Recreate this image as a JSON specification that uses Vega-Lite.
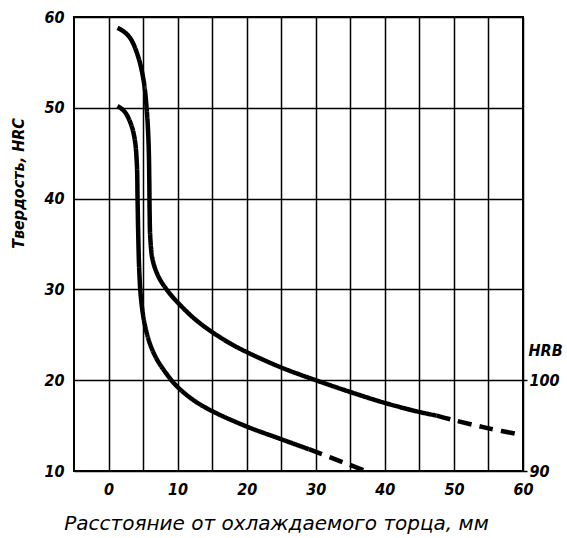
{
  "$schema": "https://vega.github.io/schema/vega-lite/v6.json",
  "width": 449,
  "height": 454,
  "autosize": {"type": "none"},
  "padding": {"left": 74, "top": 17, "right": 44, "bottom": 67},
  "background": "white",
  "config": {
    "view": {"stroke": "black", "strokeWidth": 2},
    "font": "DejaVu Sans Condensed",
    "axis": {
      "labelFont": "DejaVu Sans Condensed",
      "labelFontStyle": "italic",
      "labelFontWeight": "bold",
      "labelFontSize": 16,
      "labelColor": "black",
      "titleFont": "DejaVu Sans Condensed",
      "titleFontStyle": "italic",
      "titleFontWeight": "normal",
      "titleColor": "black",
      "gridColor": "black",
      "gridOpacity": 1,
      "gridWidth": 1.5,
      "domain": false,
      "labelOverlap": false
    }
  },
  "data": {
    "values": [
      {"seg": "A1", "style": "solid", "i": 1, "x": 1.3, "y": 58.8},
      {"seg": "A1", "style": "solid", "i": 2, "x": 2.2, "y": 58.4},
      {"seg": "A1", "style": "solid", "i": 3, "x": 3.2, "y": 57.6},
      {"seg": "A1", "style": "solid", "i": 4, "x": 4.3, "y": 55.6},
      {"seg": "A1", "style": "solid", "i": 5, "x": 5.1, "y": 52.9},
      {"seg": "A1", "style": "solid", "i": 6, "x": 5.55, "y": 49.6},
      {"seg": "A1", "style": "solid", "i": 7, "x": 5.8, "y": 46.0},
      {"seg": "A1", "style": "solid", "i": 8, "x": 5.9, "y": 42.0},
      {"seg": "A1", "style": "solid", "i": 9, "x": 5.95, "y": 38.5},
      {"seg": "A1", "style": "solid", "i": 10, "x": 6.05, "y": 35.6},
      {"seg": "A1", "style": "solid", "i": 11, "x": 6.4, "y": 33.2},
      {"seg": "A1", "style": "solid", "i": 12, "x": 7.3, "y": 31.3},
      {"seg": "A1", "style": "solid", "i": 13, "x": 8.8, "y": 29.6},
      {"seg": "A1", "style": "solid", "i": 14, "x": 10.6, "y": 28.1},
      {"seg": "A1", "style": "solid", "i": 15, "x": 12.7, "y": 26.6},
      {"seg": "A1", "style": "solid", "i": 16, "x": 15.0, "y": 25.3},
      {"seg": "A1", "style": "solid", "i": 17, "x": 17.5, "y": 24.1},
      {"seg": "A1", "style": "solid", "i": 18, "x": 20.0, "y": 23.1},
      {"seg": "A1", "style": "solid", "i": 19, "x": 25.0, "y": 21.4},
      {"seg": "A1", "style": "solid", "i": 20, "x": 30.0, "y": 20.0},
      {"seg": "A1", "style": "solid", "i": 21, "x": 35.0, "y": 18.7},
      {"seg": "A1", "style": "solid", "i": 22, "x": 40.0, "y": 17.5},
      {"seg": "A1", "style": "solid", "i": 23, "x": 45.0, "y": 16.5},
      {"seg": "A1", "style": "solid", "i": 24, "x": 47.5, "y": 16.1},
      {"seg": "A2", "style": "dashed", "i": 25, "x": 47.5, "y": 16.1},
      {"seg": "A2", "style": "dashed", "i": 26, "x": 50.0, "y": 15.6},
      {"seg": "A2", "style": "dashed", "i": 27, "x": 55.0, "y": 14.7},
      {"seg": "A2", "style": "dashed", "i": 28, "x": 59.7, "y": 14.0},
      {"seg": "B1", "style": "solid", "i": 1, "x": 1.3, "y": 50.2},
      {"seg": "B1", "style": "solid", "i": 2, "x": 2.3, "y": 49.6},
      {"seg": "B1", "style": "solid", "i": 3, "x": 3.2, "y": 48.3},
      {"seg": "B1", "style": "solid", "i": 4, "x": 3.8, "y": 46.5},
      {"seg": "B1", "style": "solid", "i": 5, "x": 4.1, "y": 43.8},
      {"seg": "B1", "style": "solid", "i": 6, "x": 4.2, "y": 40.0},
      {"seg": "B1", "style": "solid", "i": 7, "x": 4.3, "y": 36.0},
      {"seg": "B1", "style": "solid", "i": 8, "x": 4.45, "y": 32.0},
      {"seg": "B1", "style": "solid", "i": 9, "x": 4.7, "y": 29.0},
      {"seg": "B1", "style": "solid", "i": 10, "x": 5.2, "y": 26.3},
      {"seg": "B1", "style": "solid", "i": 11, "x": 6.0, "y": 24.0},
      {"seg": "B1", "style": "solid", "i": 12, "x": 7.0, "y": 22.3},
      {"seg": "B1", "style": "solid", "i": 13, "x": 8.3, "y": 20.8},
      {"seg": "B1", "style": "solid", "i": 14, "x": 9.8, "y": 19.4},
      {"seg": "B1", "style": "solid", "i": 15, "x": 12.3, "y": 17.8},
      {"seg": "B1", "style": "solid", "i": 16, "x": 15.0, "y": 16.6},
      {"seg": "B1", "style": "solid", "i": 17, "x": 20.0, "y": 14.9},
      {"seg": "B1", "style": "solid", "i": 18, "x": 25.0, "y": 13.5},
      {"seg": "B1", "style": "solid", "i": 19, "x": 29.0, "y": 12.4},
      {"seg": "B2", "style": "dashed", "i": 20, "x": 29.0, "y": 12.4},
      {"seg": "B2", "style": "dashed", "i": 21, "x": 32.1, "y": 11.5},
      {"seg": "B2", "style": "dashed", "i": 22, "x": 36.9, "y": 10.1}
    ]
  },
  "layer": [
    {
      "mark": {"type": "line", "color": "black", "strokeWidth": 4.5, "interpolate": "catmull-rom", "strokeCap": "butt"},
      "encoding": {
        "x": {
          "field": "x", "type": "quantitative",
          "scale": {"domain": [-5, 60], "nice": false, "zero": false},
          "axis": {
            "values": [0, 5, 10, 15, 20, 25, 30, 35, 40, 45, 50, 55, 60],
            "labelExpr": "datum.value % 10 == 0 ? datum.label : ''",
            "grid": true, "ticks": false, "labelPadding": 10, "labelFlush": false,
            "title": "Расстояние от охлаждаемого торца, мм",
            "titleFont": "DejaVu Sans",
            "titleFontSize": 20, "titleX": 202, "titleY": 52,
            "titleAlign": "center", "titleBaseline": "middle"
          }
        },
        "y": {
          "field": "y", "type": "quantitative",
          "scale": {"domain": [10, 60], "nice": false, "zero": false},
          "axis": {
            "values": [10, 20, 30, 40, 50, 60],
            "grid": true, "ticks": false, "labelPadding": 10,
            "title": "Твердость, HRC",
            "titleFontSize": 16, "titleFontWeight": "bold", "titleAngle": -90,
            "titleX": -56, "titleY": 166, "titleAlign": "center", "titleBaseline": "middle"
          }
        },
        "detail": {"field": "seg", "type": "nominal"},
        "order": {"field": "i", "type": "quantitative"},
        "strokeDash": {
          "field": "style", "type": "nominal",
          "scale": {"domain": ["solid", "dashed"], "range": [[1, 0], [14, 8]]},
          "legend": null
        }
      }
    },
    {
      "mark": {"type": "point", "opacity": 0},
      "encoding": {
        "y": {
          "field": "y", "type": "quantitative",
          "scale": {"domain": [10, 60], "nice": false, "zero": false},
          "axis": {
            "orient": "right", "values": [10, 20],
            "labelExpr": "datum.value == 20 ? '100' : '90'",
            "grid": false, "ticks": true, "tickSize": 4, "tickWidth": 1.5, "tickColor": "black",
            "labelPadding": 2,
            "title": "HRB", "titleFontSize": 16, "titleFontWeight": "bold", "titleAngle": 0,
            "titleX": 5, "titleY": 333, "titleAlign": "left", "titleBaseline": "middle"
          }
        }
      }
    }
  ],
  "resolve": {"scale": {"y": "independent"}}
}
